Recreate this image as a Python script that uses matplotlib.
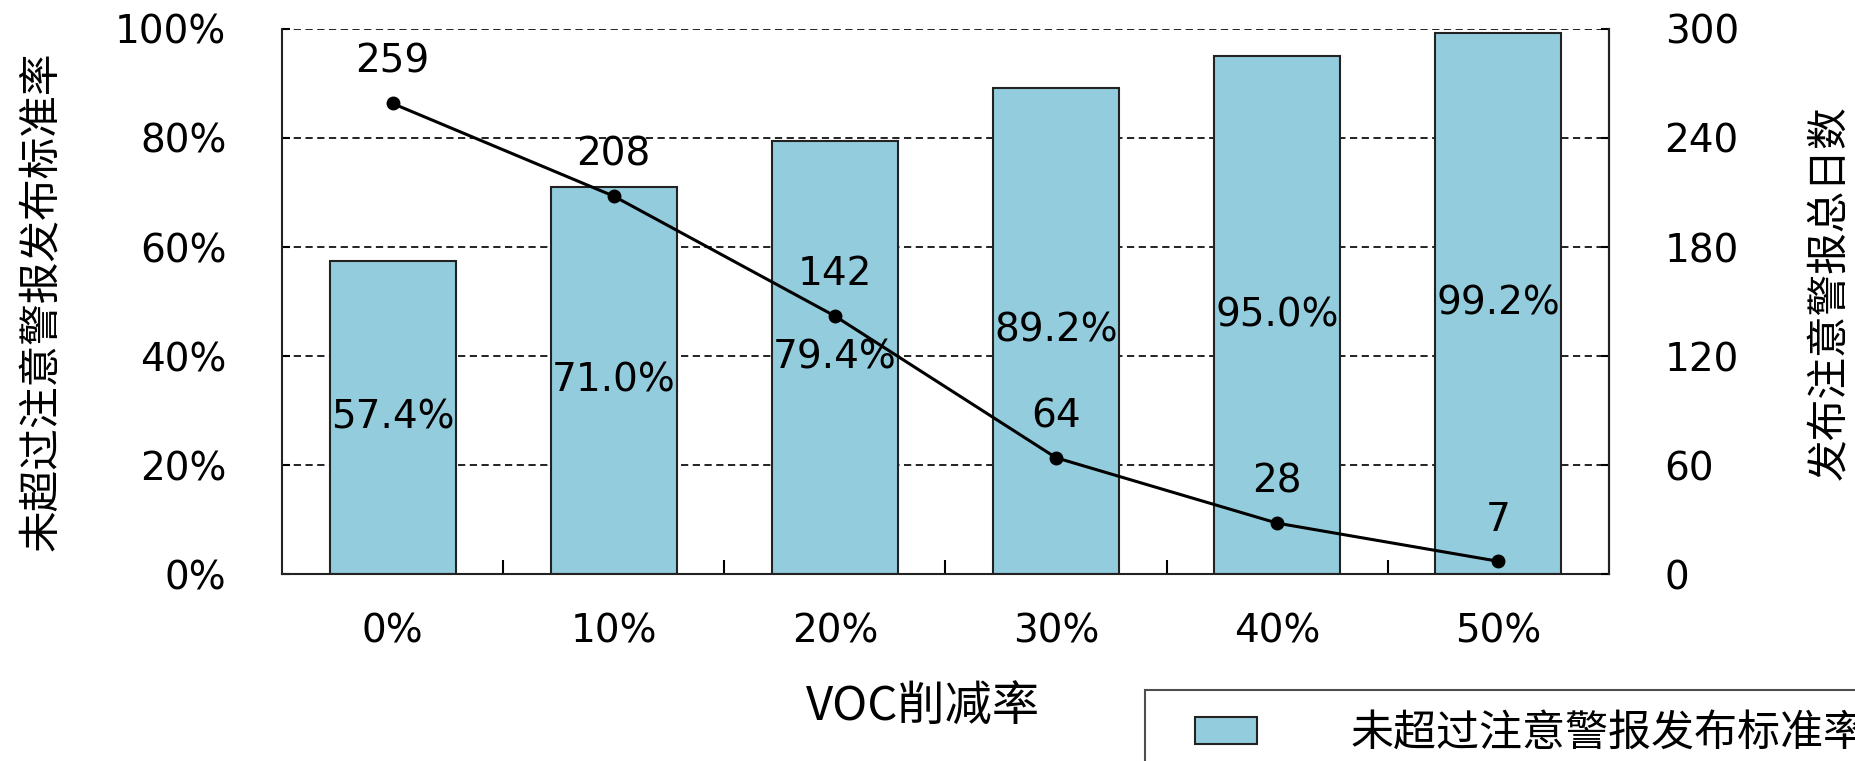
import matplotlib
matplotlib.use('Agg')
import matplotlib.pyplot as plt
import matplotlib.patches as mpatches
from matplotlib.legend_handler import HandlerPatch, update_from_first_child
import numpy as np

categories = ['0%', '10%', '20%', '30%', '40%', '50%']
rate = [57.4, 71.0, 79.4, 89.2, 95.0, 99.2]   # 未超过注意警报发布标准率 (%)
days = [259, 208, 142, 64, 28, 7]              # 发布注意警报总日数
left_ticks = [0, 20, 40, 60, 80, 100]
right_ticks = [0, 60, 120, 180, 240, 300]

cn = ['Noto Sans CJK SC', 'DejaVu Sans']
plt.rcParams['font.family'] = ['DejaVu Sans', 'Noto Sans CJK SC']

fig = plt.figure(figsize=(18.55, 7.61), dpi=100)
ax = fig.add_axes([0.152, 0.2457, 0.7154, 0.7162])
x = np.arange(len(categories))

bars = ax.bar(x, rate, width=0.57, color='#93CDDD', edgecolor='#222222',
              linewidth=1.5, zorder=2, label='未超过注意警报发布标准率')
ax.bar_label(bars, labels=['%.1f%%' % v for v in rate], label_type='center',
             fontsize=28, color='black', zorder=5)

ax.set_xlim(-0.5, len(categories) - 0.5)
ax.set_ylim(0, 100)
ax.set_yticks(left_ticks)
ax.set_yticklabels(['%d%%' % v for v in left_ticks])
ax.set_xticks(x)
ax.set_xticklabels(categories)
ax.set_xticks(np.arange(0.5, len(categories) - 1, 1), minor=True)
ax.tick_params(axis='x', which='major', length=0, pad=28, labelsize=28)
ax.tick_params(axis='x', which='minor', direction='in', length=10, width=1.5)
ax.tick_params(axis='y', direction='in', length=6, width=1.5, pad=40, labelsize=28)
ax.yaxis.grid(True, linestyle=(0, (4, 2.5)), color='#111111', linewidth=1.3)
ax.set_axisbelow(True)
for s in ['left', 'bottom', 'right']:
    ax.spines[s].set_linewidth(1.5)
    ax.spines[s].set_color('#222222')
ax.spines['top'].set_visible(False)

ax.set_xlabel('VOC削减率', fontsize=34, family=cn)
ax.xaxis.set_label_coords(0.483, -0.198)
ax.set_ylabel('未超过注意警报发布标准率', fontsize=30, family=cn)
ax.yaxis.set_label_coords(-0.166, 0.5)

ax2 = ax.twinx()
line, = ax2.plot(x, days, color='black', linewidth=2.2, marker='o',
                 markersize=9, zorder=4, label='发布注意警报总日数')
for xi, d in zip(x, days):
    ax2.annotate(str(d), (xi, d), xytext=(0, 30), textcoords='offset points',
                 ha='center', va='center', fontsize=28)
ax2.set_ylim(0, 300)
ax2.set_yticks(right_ticks)
ax2.tick_params(axis='y', direction='in', length=6, width=1.5, pad=40, labelsize=28)
for s in ['top', 'left', 'bottom']:
    ax2.spines[s].set_visible(False)
ax2.spines['right'].set_linewidth(1.5)
ax2.spines['right'].set_color('#222222')
ax2.set_ylabel('发布注意警报总日数', fontsize=30, family=cn, rotation=90)
ax2.yaxis.set_label_coords(1.151, 0.516)


# legend swatch sits a bit inside its handle box, like the original
def swatch(legend, orig_handle, xdescent, ydescent, width, height, fontsize):
    return mpatches.Rectangle((-xdescent + 20.5, -ydescent), 45, height)


leg = fig.legend(handles=[bars], loc='upper left',
                 bbox_to_anchor=(0.617, 0.0933), borderaxespad=0,
                 prop={'family': cn, 'size': 31}, frameon=True, fancybox=False,
                 edgecolor='#222222', handlelength=2.11, handleheight=0.6,
                 handletextpad=2.18, borderpad=0.5,
                 handler_map={type(bars): HandlerPatch(patch_func=swatch,
                                                       update_func=update_from_first_child)})
leg.get_frame().set_linewidth(1.5)

fig.savefig('out.png', dpi=100)
